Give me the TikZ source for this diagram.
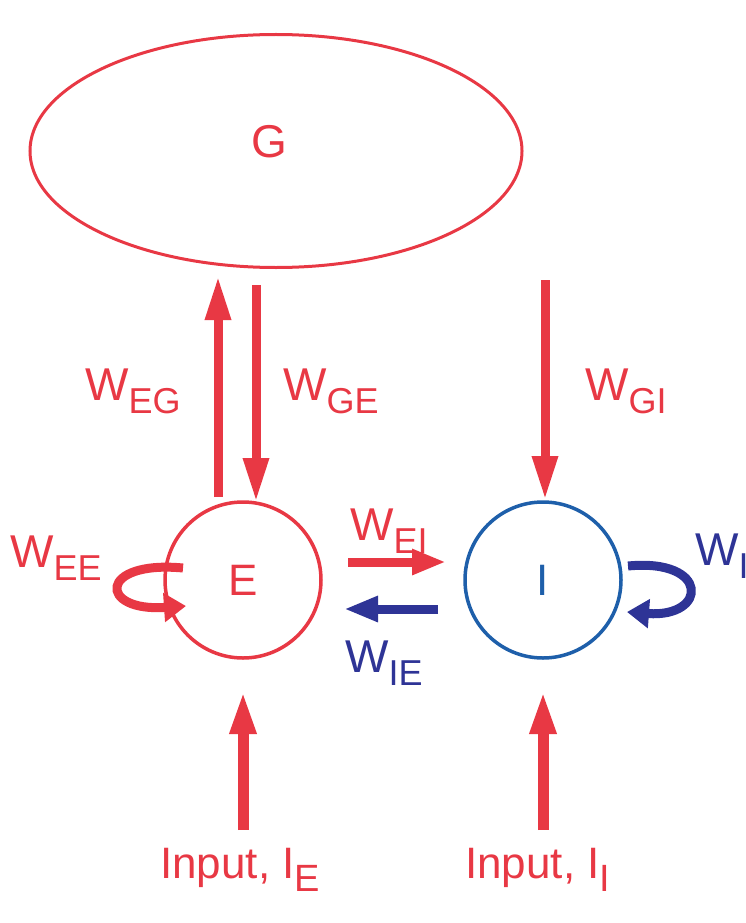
\documentclass[tikz,border=0pt]{standalone}
\usepackage{fontspec}
\setmainfont{Liberation Sans}
\usetikzlibrary{arrows.meta,shapes.geometric}
\definecolor{cred}{RGB}{232,56,68}
\definecolor{cblue}{RGB}{30,95,170}
\definecolor{cnavy}{RGB}{46,52,150}
\newcommand\sbs[1]{\raisebox{-13pt}{\fontsize{36}{40}\selectfont #1}}
\newcommand\sbi[1]{\raisebox{-13pt}{\fontsize{38}{42}\selectfont #1}}
\begin{document}
\begin{tikzpicture}[x=1pt,y=-1pt,
  bigarrow/.style={line width=9pt, -{Triangle[length=44pt,width=24pt]}},
  midarrow/.style={line width=9pt, -{Triangle[length=34pt,width=24pt]}},
  looparrow/.style={line width=9pt, -{Triangle[length=22pt,width=28pt]}},
  lbl/.style={font=\fontsize{46}{50}\selectfont, inner sep=0pt, anchor=base west},
  cell/.style={circle, line width=3.5pt, minimum size=156pt, inner sep=0pt, font=\fontsize{44}{48}\selectfont}]
\useasboundingbox (0,0) rectangle (745,923);
\node[ellipse, draw=cred, line width=3pt, minimum width=492pt, minimum height=233pt, inner sep=0pt] (G) at (276,151) {};
\node[text=cred, font=\fontsize{46}{50}\selectfont, inner sep=0pt] (Glbl) at (269,142) {G};
\node[cell, draw=cred, text=cred] (E) at (243,580) {E};
\node[cell, draw=cblue, text=cblue] (I) at (543,580) {I};
% coordinates for arrow ends
\coordinate (egS) at (218,497);
\coordinate (egT) at (218,276);
\coordinate (geS) at (256,285);
\coordinate (geT) at (256,502);
\coordinate (giS) at (545,280);
\coordinate (giT) at (545,500);
\coordinate (eiS) at (348,562);
\coordinate (eiT) at (446,562);
\coordinate (ieS) at (438,609);
\coordinate (ieT) at (344,609);
\coordinate (inES) at (243,830);
\coordinate (inET) at (243,690);
\coordinate (inIS) at (543,830);
\coordinate (inIT) at (543,690);
\coordinate (eeS) at (183,568);
\coordinate (eeT) at (186,606);
\coordinate (iiS) at (628,566);
\coordinate (iiT) at (627,612);
% arrows
\draw[bigarrow, cred] (egS) -- (egT);
\draw[bigarrow, cred] (geS) -- (geT);
\draw[bigarrow, cred] (giS) -- (giT);
\draw[midarrow, cred] (eiS) -- (eiT);
\draw[midarrow, cnavy] (ieS) -- (ieT);
\draw[bigarrow, cred, line width=11pt] (inES) -- (inET);
\draw[bigarrow, cred, line width=11pt] (inIS) -- (inIT);
\draw[looparrow, cred] (eeS) .. controls (98,560) and (98,612) .. (eeT);
\draw[looparrow, cnavy] (iiS) .. controls (710,558) and (708,618) .. (iiT);
% labels
\node[lbl, text=cred] (lEE) at (10,567) {W\sbs{EE}};
\node[lbl, text=cred] (lEG) at (85,400) {W\sbs{EG}};
\node[lbl, text=cred] (lGE) at (283,400) {W\sbs{GE}};
\node[lbl, text=cred] (lGI) at (585,400) {W\sbs{GI}};
\node[lbl, text=cred] (lEI) at (350,540) {W\sbs{EI}};
\node[lbl, text=cnavy] (lIE) at (345,672) {W\sbs{IE}};
\node[lbl, text=cnavy] (lII) at (695,565) {W\sbs{II}};
\node[lbl, text=cred, font=\fontsize{44}{48}\selectfont] (inE) at (160,878) {Input, I\sbi{E}};
\node[lbl, text=cred, font=\fontsize{44}{48}\selectfont] (inI) at (465,878) {Input, I\sbi{I}};
\end{tikzpicture}
\end{document}
